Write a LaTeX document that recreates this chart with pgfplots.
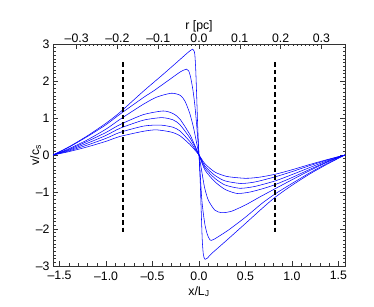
\documentclass[border=0pt]{standalone}
\usepackage{fontspec}
\setmainfont{Liberation Sans}
\usepackage{pgfplots}
\pgfplotsset{compat=1.18}
\begin{document}
\begin{tikzpicture}
\pgfplotsset{every axis/.append style={
  scale only axis, width=292pt, height=222pt,
  tick align=inside, major tick length=5pt, minor tick length=2.5pt,
  axis line style={line width=0.6pt, black!80},
  every tick/.style={black!80, line width=0.5pt},
  tick label style={font=\fontsize{12.3}{14}\selectfont},
  label style={font=\fontsize{12.3}{14}\selectfont},
  /pgf/number format/assume math mode=true}}
\begin{axis}[name=main,
  xmin=-1.5708, xmax=1.5708, ymin=-3, ymax=3,
  xtick pos=bottom, ytick pos=both,
  xtick={-1.5,-1,-0.5,0,0.5,1,1.5},
  xticklabels={\textendash1.5,\textendash1.0,\textendash0.5,0.0,0.5,1.0,1.5},
  xticklabel style={yshift=-2pt},
  ytick={-3,-2,-1,0,1,2,3},
  yticklabels={\textendash3,\textendash2,\textendash1,0,1,2,3},
  minor x tick num=4, minor y tick num=9,
  xlabel={x/L\textsubscript{J}}, ylabel={v/c\textsubscript{s}},
  xlabel style={yshift=1pt}, ylabel style={yshift=-12pt}]
\addplot[blue, line width=0.55pt, smooth, tension=0.4] coordinates {(-1.5708,0) (-1.4,0.22) (-1.2,0.52) (-1.0,0.86) (-0.852,1.15) (-0.6,1.72) (-0.4,2.15) (-0.25,2.48) (-0.133,2.74) (-0.09,2.83) (-0.068,2.86) (-0.055,2.82) (-0.045,2.72) (-0.035,2.3) (-0.025,1.6) (-0.015,0.85) (-0.006,0.3) (0,0) (0.006,-0.3) (0.015,-0.85) (0.025,-1.6) (0.035,-2.3) (0.045,-2.65) (0.055,-2.78) (0.065,-2.82) (0.09,-2.79) (0.133,-2.67) (0.3,-2.30) (0.5,-1.85) (0.676,-1.45) (0.82,-1.14) (1.0,-0.82) (1.2,-0.50) (1.4,-0.22) (1.5708,0)};
\addplot[blue, line width=0.55pt, smooth, tension=0.4] coordinates {(-1.5708,0) (-1.4,0.21) (-1.2,0.50) (-1.0,0.82) (-0.852,1.10) (-0.6,1.55) (-0.49,1.73) (-0.4,1.89) (-0.3,2.07) (-0.205,2.24) (-0.16,2.30) (-0.133,2.32) (-0.11,2.27) (-0.09,2.1) (-0.065,1.75) (-0.045,1.35) (-0.03,0.95) (-0.015,0.5) (0,0) (0.015,-0.6) (0.03,-1.2) (0.045,-1.55) (0.065,-1.9) (0.09,-2.15) (0.12,-2.30) (0.16,-2.28) (0.316,-2.03) (0.5,-1.68) (0.676,-1.31) (0.82,-1.05) (1.0,-0.77) (1.2,-0.47) (1.4,-0.20) (1.5708,0)};
\addplot[blue, line width=0.55pt, smooth, tension=0.4] coordinates {(-1.5708,0) (-1.4,0.17) (-1.2,0.41) (-1.0,0.70) (-0.852,0.96) (-0.6,1.37) (-0.45,1.57) (-0.295,1.67) (-0.2,1.61) (-0.15,1.45) (-0.1,1.13) (-0.06,0.75) (-0.03,0.38) (0,0) (0.03,-0.45) (0.06,-0.88) (0.1,-1.22) (0.17,-1.49) (0.245,-1.56) (0.35,-1.52) (0.5,-1.35) (0.65,-1.14) (0.82,-0.91) (1.0,-0.67) (1.2,-0.41) (1.4,-0.17) (1.5708,0)};
\addplot[blue, line width=0.55pt, smooth, tension=0.4] coordinates {(-1.5708,0) (-1.4,0.15) (-1.2,0.37) (-1.0,0.61) (-0.852,0.82) (-0.6,1.09) (-0.385,1.19) (-0.28,1.12) (-0.205,0.97) (-0.1,0.56) (-0.05,0.29) (0,0) (0.065,-0.41) (0.17,-0.72) (0.28,-0.93) (0.41,-1.04) (0.55,-1.00) (0.7,-0.90) (0.82,-0.80) (1.0,-0.61) (1.2,-0.38) (1.4,-0.16) (1.5708,0)};
\addplot[blue, line width=0.55pt, smooth, tension=0.4] coordinates {(-1.5708,0) (-1.4,0.13) (-1.2,0.32) (-1.0,0.53) (-0.852,0.72) (-0.6,0.94) (-0.40,1.01) (-0.28,0.95) (-0.205,0.82) (-0.1,0.47) (-0.05,0.25) (0,0) (0.065,-0.35) (0.17,-0.63) (0.28,-0.81) (0.44,-0.90) (0.6,-0.85) (0.82,-0.70) (1.0,-0.53) (1.2,-0.33) (1.4,-0.14) (1.5708,0)};
\addplot[blue, line width=0.55pt, smooth, tension=0.4] coordinates {(-1.5708,0) (-1.4,0.11) (-1.2,0.27) (-1.0,0.45) (-0.852,0.61) (-0.6,0.78) (-0.42,0.81) (-0.28,0.75) (-0.205,0.65) (-0.1,0.37) (-0.05,0.19) (0,0) (0.065,-0.30) (0.17,-0.55) (0.28,-0.70) (0.45,-0.77) (0.6,-0.73) (0.82,-0.59) (1.0,-0.45) (1.2,-0.28) (1.4,-0.12) (1.5708,0)};
\addplot[blue, line width=0.55pt, smooth, tension=0.4] coordinates {(-1.5708,0) (-1.4,0.09) (-1.2,0.22) (-1.0,0.37) (-0.852,0.50) (-0.6,0.64) (-0.46,0.68) (-0.3,0.62) (-0.205,0.52) (-0.1,0.29) (-0.05,0.15) (0,0) (0.065,-0.24) (0.17,-0.46) (0.3,-0.58) (0.5,-0.63) (0.65,-0.60) (0.82,-0.52) (1.0,-0.40) (1.2,-0.25) (1.4,-0.11) (1.5708,0)};
\addplot[black, line width=2.4pt, dash pattern=on 4.5pt off 3pt] coordinates {(-0.82,2.5) (-0.82,-2.1)};
\addplot[black, line width=2.4pt, dash pattern=on 4.5pt off 3pt] coordinates {(0.82,2.5) (0.82,-2.1)};
\end{axis}
\begin{axis}[xmin=-0.358, xmax=0.358, ymin=-3, ymax=3,
  xtick pos=top, hide y axis,
  xtick={-0.3,-0.2,-0.1,0,0.1,0.2,0.3},
  xticklabels={\textendash0.3,\textendash0.2,\textendash0.1,0.0,0.1,0.2,0.3},
  xticklabel style={yshift=-2pt},
  minor x tick num=9,
  xlabel={r [pc]}, xlabel style={yshift=-5pt}]
\end{axis}
\path ([xshift=-53pt,yshift=-41pt]main.south west) rectangle ([xshift=29pt,yshift=44pt]main.north east);
\end{tikzpicture}
\end{document}
